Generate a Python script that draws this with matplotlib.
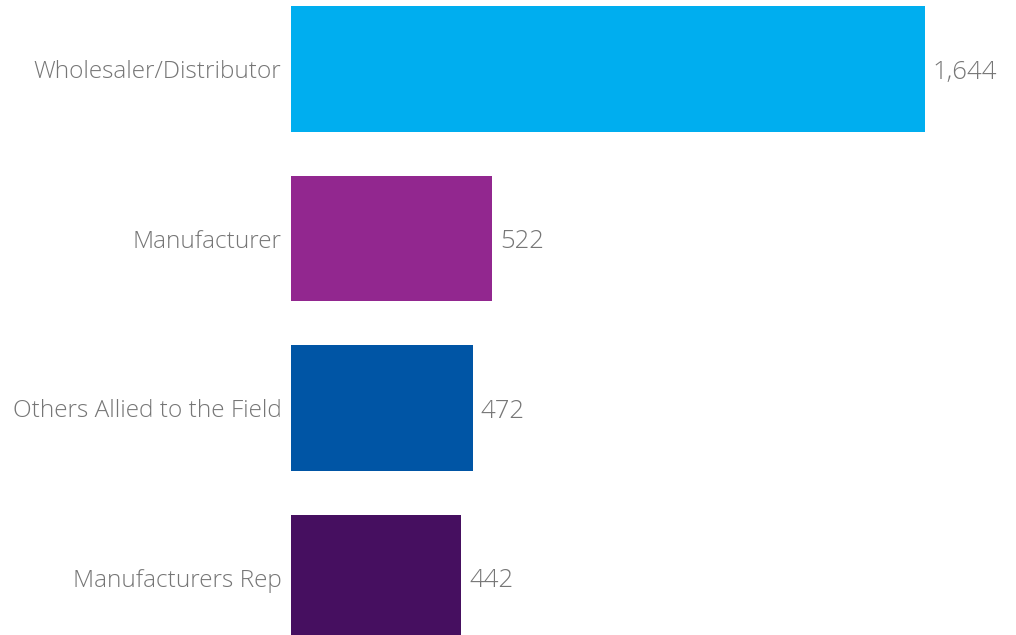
import matplotlib
matplotlib.use("Agg")
import matplotlib.pyplot as plt

categories = ["Wholesaler/Distributor", "Manufacturer", "Others Allied to the Field", "Manufacturers Rep"]
values = [1644, 522, 472, 442]
colors = ["#00aeef", "#92278f", "#0055a5", "#460f60"]

plt.rcParams["font.family"] = ["Open Sans", "DejaVu Sans"]
text_color = "#767676"

fig = plt.figure(figsize=(10.16, 6.35), dpi=100)
ax = fig.add_axes([291 / 1016, 0, 1 - 291 / 1016, 1])

pos = range(len(categories))
ax.barh(pos, values, height=0.74, color=colors)

for p, v in zip(pos, values):
    ax.text(v + 20, p + 0.02, f"{v:,}", va="center", ha="left", fontsize=18.5,
            color=text_color, fontweight="light")

ax.set_yticks(list(pos))
ax.set_yticklabels(categories, fontsize=17.6, color=text_color, fontweight="light")
ax.tick_params(axis="y", length=0, pad=7)
ax.set_xticks([])
ax.set_xlim(0, 1880)
ax.set_ylim(3.339, -0.407)
for s in ax.spines.values():
    s.set_visible(False)

fig.savefig("out.png", dpi=100)
